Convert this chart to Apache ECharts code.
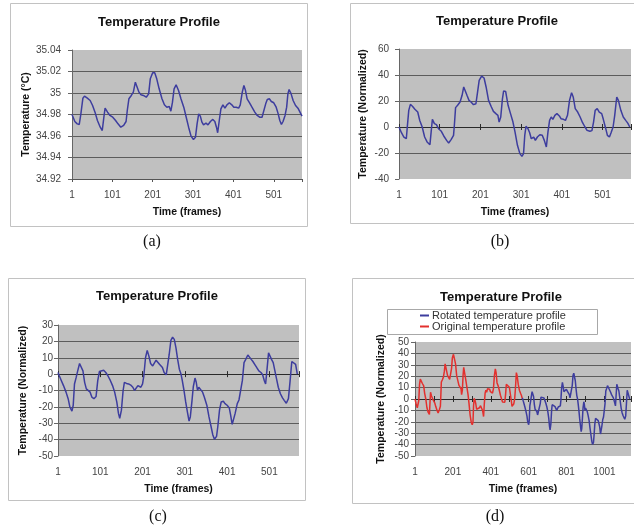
<!DOCTYPE html>
<html>
<head>
<meta charset="utf-8">
<script src="https://cdn.jsdelivr.net/npm/echarts@6/dist/echarts.min.js"></script>
<style>
  html, body { margin: 0; padding: 0; background: #fff; }
  #chart { width: 634px; height: 531px; }
</style>
</head>
<body>
<div id="chart"></div>
<script>
// (a) raw temperature, frame index (0 = frame 1) and degrees C
const framesA = [0, 7, 13, 18, 22, 27, 31, 38, 45, 51, 57, 63, 70, 75, 79, 82, 88, 94, 101, 108,
  114, 121, 128, 134, 137, 141, 147, 152, 157, 161, 166, 171, 177, 184, 190, 194, 200, 205, 210, 216,
  223, 229, 235, 241, 245, 249, 253, 258, 264, 270, 277, 282, 289, 295, 301, 306, 310, 314, 318, 322,
  326, 332, 337, 343, 349, 354, 358, 361, 365, 369, 374, 379, 384, 390, 396, 401, 407, 413, 417, 422,
  426, 430, 434, 440, 446, 453, 459, 465, 471, 475, 480, 484, 489, 494, 500, 506, 511, 515, 519, 523,
  528, 532, 535, 538, 543, 548, 554, 560, 565, 570];
const tempA = [34.980, 34.9735, 34.9713, 34.9707, 34.9806, 34.9952, 34.9971, 34.9952, 34.9930, 34.9884, 34.9822, 34.9744, 34.9682, 34.9651, 34.9775, 34.9859, 34.9822, 34.9791, 34.9775, 34.9744,
  34.9713, 34.9682, 34.9698, 34.9735, 34.9837, 34.9946, 34.9977, 35.0008, 35.0101, 35.0085, 35.0008, 34.9983, 34.9977, 34.9961, 34.9992, 35.0132, 35.0188, 35.0188, 35.0132, 35.0039,
  34.9946, 34.9890, 34.9868, 34.9874, 34.9831, 34.9915, 35.0039, 35.0076, 35.0023, 34.9946, 34.9868, 34.9791, 34.9682, 34.9599, 34.9568, 34.9589, 34.9713, 34.9806, 34.9785, 34.9729,
  34.9704, 34.9719, 34.9704, 34.9735, 34.9754, 34.9735, 34.9682, 34.9630, 34.9744, 34.9853, 34.9890, 34.9859, 34.9890, 34.9909, 34.9890, 34.9868, 34.9868, 34.9859, 34.9890, 35.0008,
  35.0070, 35.0023, 34.9946, 34.9909, 34.9868, 34.9822, 34.9791, 34.9775, 34.9775, 34.9785, 34.9899, 34.9940, 34.9946, 34.9921, 34.9909, 34.9868, 34.9806, 34.9744, 34.9707, 34.9735,
  34.9791, 34.9868, 34.9992, 35.0033, 34.9992, 34.9930, 34.9884, 34.9859, 34.9822, 34.9785];

// (b) normalized original profile
const framesB = [0, 6, 12, 18, 20, 24, 28, 33, 39, 46, 51, 57, 63, 69, 76, 79, 82, 87, 92, 97,
  104, 110, 117, 122, 128, 134, 136, 139, 144, 150, 155, 159, 163, 167, 172, 177, 183, 189, 193, 197,
  203, 209, 214, 220, 227, 232, 238, 243, 246, 250, 254, 257, 262, 268, 274, 280, 285, 291, 297, 302,
  306, 309, 312, 317, 321, 325, 331, 335, 340, 346, 352, 357, 362, 366, 370, 374, 378, 383, 388, 394,
  398, 404, 409, 414, 419, 424, 428, 433, 439, 445, 451, 457, 462, 469, 474, 478, 482, 487, 492, 498,
  502, 508, 512, 517, 521, 526, 530, 535, 539, 545, 551, 557, 562, 567];
const normB = [0, -4.4, -7.7, -9, -1.3, 12.8, 17.4, 16, 13.6, 11.5, 5, 0, -7.7, -11.5, -13.6, -3.8, 5.9, 2.6, 1.8, -1.3,
  -3.3, -6.9, -10.3, -12.3, -9.7, -6.4, 1.3, 14.9, 16.7, 19.2, 24.4, 30.8, 30, 24.4, 20.5, 19.2, 17.2, 17.9, 26.9, 35.9,
  39.2, 37.7, 30.8, 20.5, 15.4, 12, 10.3, 9, 3.8, 7.7, 21.3, 27.7, 27.4, 16.7, 10.3, 3.8, -3.8, -14.1, -20.5, -22.6,
  -20.5, -6.4, 0.5, -1.3, -4.4, -9, -7.7, -10.3, -7.7, -5.9, -6.4, -10.3, -15.4, -3.8, 5.1, 7.7, 5.9, 9, 10.3, 8.5,
  6.4, 5.9, 5.1, 9, 20.5, 26.4, 23.1, 14.1, 11.5, 7.7, 3.3, 0, -2.6, -3.3, -2.8, 3.8, 12.8, 14.1, 11.5, 10.3,
  5.9, -1.3, -6.4, -7.7, -4.4, 0, 9, 23.1, 20.5, 12.8, 7.7, 5.1, 3, 0];

// (c) normalized rotated profile
const framesC = [0, 3, 8, 13, 19, 24, 28, 33, 36, 39, 43, 47, 51, 55, 59, 63, 67, 71, 76, 80,
  85, 90, 94, 98, 102, 108, 113, 118, 124, 129, 134, 139, 143, 146, 150, 154, 157, 162, 167, 172,
  177, 181, 185, 189, 192, 196, 200, 203, 207, 211, 215, 219, 224, 228, 232, 236, 240, 244, 247, 251,
  256, 260, 263, 267, 271, 275, 279, 283, 287, 291, 294, 298, 302, 306, 310, 313, 317, 320, 324, 327,
  330, 333, 337, 342, 346, 352, 357, 362, 366, 370, 375, 378, 382, 386, 391, 395, 400, 405, 408, 412,
  415, 419, 424, 428, 432, 436, 440, 444, 449, 453, 457, 461, 466, 471, 475, 480, 484, 488, 491, 494,
  498, 502, 505, 509, 513, 517, 521, 526, 531, 535, 540, 545, 549, 553, 557, 562, 566];
const normC = [1, -1, -4, -7, -11, -15, -20, -22.6, -19, -6, -2, 2.4, 6.5, 7.7, 2, -5, -9, -10, -11, -14,
  -15, -13.7, -4, 1.6, 2.6, 2.4, 1, -1, -4, -7, -11, -17, -24, -27, -22, -10, -5, -5.7, -6, -6.7,
  -8, -10, -9, -7, -6, -8, -6, -1, 10, 14.5, 11, 6.5, 5, 5.7, 8.5, 7.7, 6, 7, 4, 1,
  -0.4, 0.4, 12, 20.6, 22.6, 21.2, 16, 9, 3, 0, -4, -10, -17, -23, -28.7, -26, -16, -7.7, -2.4, -5,
  -10, -8, -9, -11, -14, -19, -26, -32, -37, -39.8, -38, -32, -22, -17, -16.6, -18, -19, -20.6, -24.6, -30.7,
  -30.3, -24, -18, -15.8, -15, -4, 7, 9, 11.7, 10.5, 9, 7.7, 5.7, 3.6, 2, 1, -0.4, -4, -6, 2,
  13, 12, 9, 7, 2, -3, -8, -12, -14.5, -16, -17.8, -15, -4, 7.7, 7, 6, 0];

// (d) rotated profile is appended where the original one ends
const joinFrame = 567;

const FONT = '"Liberation Sans", Arial, sans-serif';
const BLUE = '#3d3d9e';
const RED = '#e3302e';

const pairs = (xs, ys, shift) => xs.map((x, i) => [x + (shift || 0), ys[i]]);
const lab100 = v => (v % 100 === 0 ? String(v + 1) : '');
const lab200 = v => (v % 200 === 0 ? String(v + 1) : '');

const nameStyle = { fontSize: 10.5, fontWeight: 'bold', color: '#111', fontFamily: FONT };

function labelX(gridIndex, max, interval, fmt, withLine) {
  return {
    type: 'value', gridIndex, min: 0, max, interval, position: 'bottom',
    axisLine: { show: withLine, onZero: false, lineStyle: { color: '#555' } },
    axisTick: { show: withLine, length: 3, lineStyle: { color: '#555' } },
    axisLabel: { formatter: fmt, fontSize: 10, color: '#444', margin: 11, fontFamily: FONT },
    splitLine: { show: false },
    name: 'Time (frames)', nameLocation: 'middle', nameGap: 28, nameTextStyle: nameStyle
  };
}

// axis drawn along y = 0 (only line and crossing ticks)
function zeroX(gridIndex, yIndex, max, interval, position, showLine) {
  return {
    type: 'value', gridIndex, min: 0, max, interval, position,
    axisLine: { show: showLine, onZero: true, onZeroAxisIndex: yIndex, lineStyle: { color: '#2a2a2a' } },
    axisTick: { show: true, length: 3, lineStyle: { color: '#2a2a2a' } },
    axisLabel: { show: false },
    splitLine: { show: false }
  };
}

function yAx(gridIndex, min, max, interval, name, nameGap, margin) {
  return {
    type: 'value', gridIndex, min, max, interval,
    axisLine: { show: true, onZero: false, lineStyle: { color: '#666' } },
    axisTick: { show: true, length: 4, lineStyle: { color: '#666' } },
    axisLabel: { fontSize: 10, color: '#444', margin, fontFamily: FONT },
    splitLine: { show: true, showMinLine: false, showMaxLine: false, lineStyle: { color: '#5c5c5c', width: 1 } },
    name, nameLocation: 'middle', nameGap, nameTextStyle: nameStyle
  };
}

const gridBase = { show: true, backgroundColor: '#c0c0c0', borderWidth: 0 };

function box(x, y, w, h) {
  return { type: 'rect', z: 0, shape: { x: x + 0.5, y: y + 0.5, width: w, height: h },
    style: { fill: 'none', stroke: '#c2c2c2', lineWidth: 1 } };
}
function title(x, y) {
  return { type: 'text', z: 5, x, y,
    style: { text: 'Temperature Profile', align: 'center', verticalAlign: 'middle',
      font: 'bold 13px "Liberation Sans", Arial, sans-serif', fill: '#111' } };
}
function caption(x, y, t) {
  return { type: 'text', z: 5, x, y,
    style: { text: t, align: 'center', verticalAlign: 'middle',
      font: '16px "Liberation Serif", "Times New Roman", serif', fill: '#111' } };
}

const lineSeries = (x, y, data, color, name) => ({
  name, type: 'line', xAxisIndex: x, yAxisIndex: y, data,
  symbol: 'none', showSymbol: false, clip: true,
  lineStyle: { color, width: 1.5 }, itemStyle: { color }
});

const chart = echarts.init(document.getElementById('chart'));
chart.setOption({
  animation: false,
  backgroundColor: '#fff',
  grid: [
    Object.assign({ left: 72, top: 50, width: 230, height: 129 }, gridBase),
    Object.assign({ left: 399, top: 49, width: 240, height: 130 }, gridBase),
    Object.assign({ left: 58, top: 325, width: 241, height: 131 }, gridBase),
    Object.assign({ left: 415, top: 342, width: 228, height: 114 }, gridBase)
  ],
  xAxis: [
    labelX(0, 570, 100, lab100, true),
    labelX(1, 570, 100, lab100, false),
    zeroX(1, 1, 570, 100, 'bottom', true),
    zeroX(1, 1, 570, 100, 'top', false),
    labelX(2, 570, 100, lab100, false),
    zeroX(2, 2, 570, 100, 'bottom', true),
    zeroX(2, 2, 570, 100, 'top', false),
    labelX(3, 1140, 200, lab200, false),
    zeroX(3, 3, 1140, 100, 'bottom', true),
    zeroX(3, 3, 1140, 100, 'top', false)
  ],
  yAxis: [
    yAx(0, 34.92, 35.04, 0.02, 'Temperature (°C)', 40, 11),
    yAx(1, -40, 60, 20, 'Temperature (Normalized)', 30, 10),
    yAx(2, -50, 30, 10, 'Temperature (Normalized)', 29, 5),
    yAx(3, -50, 50, 10, 'Temperature (Normalized)', 28, 6)
  ],
  legend: {
    left: 420, top: 310, orient: 'vertical', itemGap: 0, itemWidth: 9, itemHeight: 2,
    icon: 'rect', padding: 0,
    data: ['Rotated temperature profile', 'Original temperature profile'],
    textStyle: { fontSize: 11, color: '#333', fontFamily: FONT, lineHeight: 11, padding: [0, 0, 0, -2] }
  },
  graphic: [
    box(10, 3, 297, 223),
    box(350, 3, 300, 220),
    box(8, 278, 297, 222),
    box(352, 278, 300, 225),
    { type: 'rect', z: 1, shape: { x: 387.5, y: 309.5, width: 210, height: 25 },
      style: { fill: '#fff', stroke: '#a8a8a8', lineWidth: 1 } },
    title(159, 22), title(497, 21), title(157, 296), title(501, 297),
    caption(152, 242, '(a)'), caption(500, 242, '(b)'),
    caption(158, 517, '(c)'), caption(495, 517, '(d)')
  ],
  series: [
    lineSeries(0, 0, pairs(framesA, tempA), BLUE),
    lineSeries(1, 1, pairs(framesB, normB), BLUE),
    lineSeries(4, 2, pairs(framesC, normC), BLUE),
    lineSeries(7, 3, pairs(framesB, normB), RED, 'Original temperature profile'),
    lineSeries(7, 3, pairs(framesC, normC, joinFrame), BLUE, 'Rotated temperature profile')
  ]
});
</script>
</body>
</html>
